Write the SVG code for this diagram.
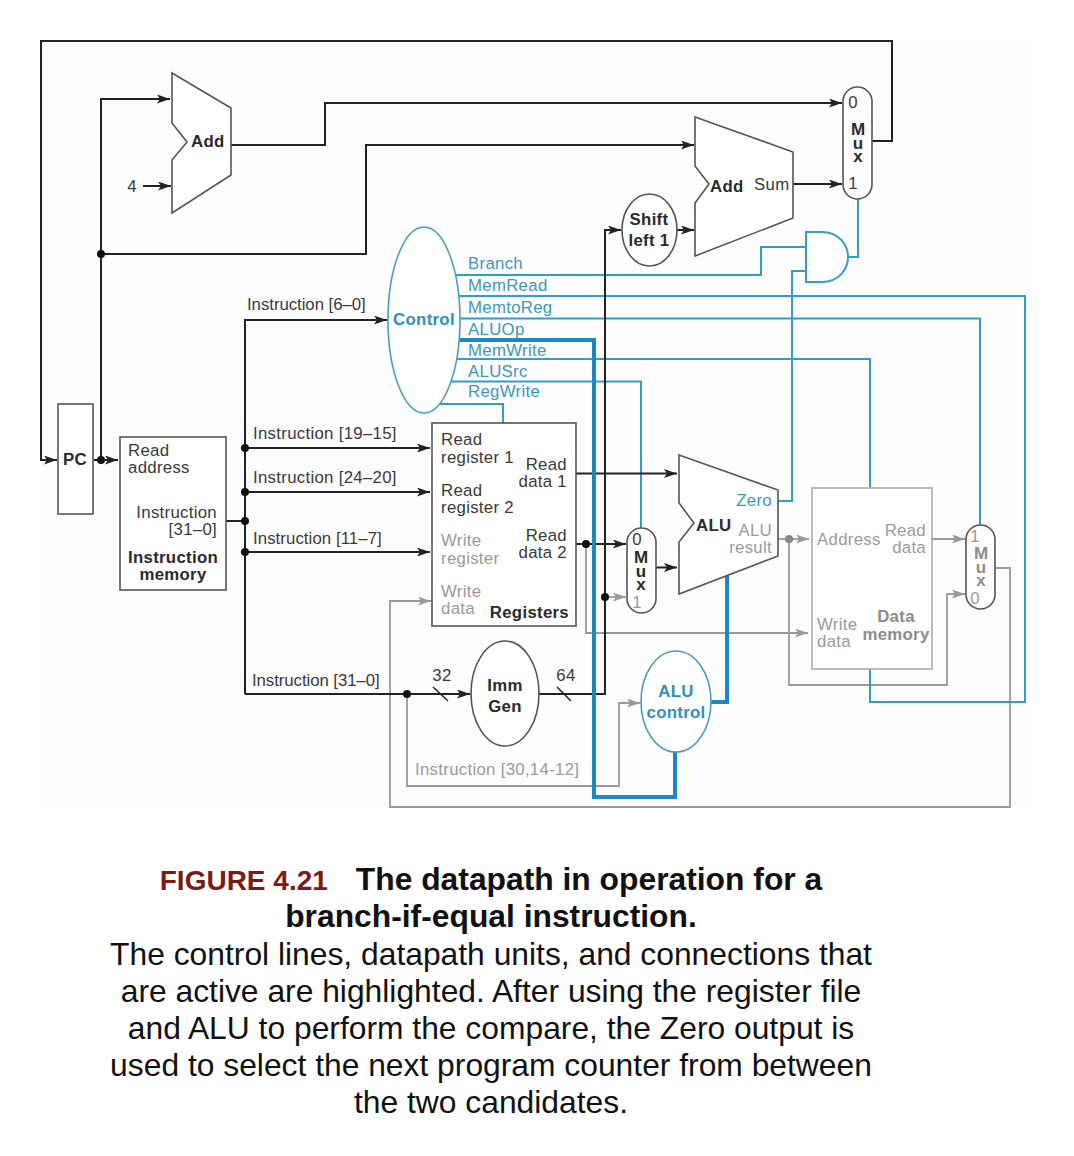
<svg xmlns="http://www.w3.org/2000/svg" width="1074" height="1156" viewBox="0 0 1074 1156">
<style>
text{font-family:"Liberation Sans",Arial,sans-serif;font-size:16.8px;letter-spacing:.3px;fill:#3a3a3a}
.b{font-weight:bold;fill:#2a2a2a}
.g{fill:#9a9a9a}
.gb{font-weight:bold;fill:#8c8c8c}
.c{fill:#3f97bd}
.cb{font-weight:bold;fill:#2f8fbc}
.m{text-anchor:middle}
.e{text-anchor:end}
.node{fill:#fff;stroke:#555;stroke-width:1.6}
.ng{fill:#fff;stroke:#ababab;stroke-width:1.6}
.nc{fill:#fff;stroke:#4f9cba;stroke-width:1.6}
.w{fill:none;stroke:#222;stroke-width:2}
.a{marker-end:url(#ad)}
.wg{fill:none;stroke:#999;stroke-width:1.8}
.ag{marker-end:url(#ag)}
.wb{fill:none;stroke:#2f9ecb;stroke-width:2}
.wt{fill:none;stroke:#1b87c4;stroke-width:4}
.cap{font-size:31.8px;letter-spacing:0;fill:#111;text-anchor:middle}
.mx{font-size:17px;font-weight:bold;writing-mode:vertical-rl;text-orientation:upright;letter-spacing:-5.500px}
</style>
<defs>
<marker id="ad" markerUnits="userSpaceOnUse" markerWidth="13" markerHeight="9" refX="13" refY="4.500" orient="auto"><path d="M0 0L13 4.500L0 9L3 4.500Z" fill="#222"/></marker>
<marker id="ag" markerUnits="userSpaceOnUse" markerWidth="13" markerHeight="9" refX="13" refY="4.500" orient="auto"><path d="M0 0L13 4.500L0 9L3 4.500Z" fill="#999"/></marker>
</defs>
<rect x="42" y="42" width="990" height="768" fill="#fdfdfd"/>
<g id="connectors">
<path class="wg ag" d="M995 568H1010V807H390V601H431"/>
<path class="wg ag" d="M586 544V633H808"/>
<path class="wg ag" d="M778 539H809"/>
<path class="wg ag" d="M789 539V685H947V594H965"/>
<path class="wg ag" d="M932 539H965"/>
<path class="wg ag" d="M605 597H626"/>
<path class="wg ag" d="M407 694V786H619V703H640"/>
<path class="wb" d="M456 275H761V247H806"/>
<path class="wb" d="M458 296H1025V702H870V669"/>
<path class="wb" d="M460 318.500H980V525"/>
<path class="wb" d="M457 359H870V488"/>
<path class="wb" d="M450 381.500H641V528"/>
<path class="wb" d="M440 404H503V423"/>
<path class="wb" d="M778 501H792V271H806"/>
<path class="wb" d="M848 257H858V199"/>
<path class="w" d="M872 141H892V41H41V460H57" marker-end="url(#ad)"/>
<path class="w a" d="M92 460H118"/>
<path class="w a" d="M101 460V99H170"/>
<path class="w a" d="M101 254H366V145H694"/>
<path class="w a" d="M143 186H171"/>
<path class="w a" d="M231 145H325V103H842"/>
<path class="w a" d="M793 184H842"/>
<path class="w a" d="M677 230H694"/>
<path class="w" d="M226 521H245"/>
<path class="w a" d="M245 694V320H387"/>
<path class="w a" d="M245 448H430"/>
<path class="w a" d="M245 492H430"/>
<path class="w a" d="M245 552H430"/>
<path class="w a" d="M245 694H470"/>
<path class="w a" d="M539 694H605V230H621"/>
<path class="w" d="M433 687L448 701M557 687L571 701" style="stroke-width:1.500"/>
<path class="w a" d="M576 473.500H677"/>
<path class="w a" d="M576 544H626"/>
<path class="w a" d="M656 567.500H677"/>
<path class="wt" d="M459 340H594V797H675V752"/>
<path class="wt" d="M711 702H727V576"/>
<g fill="#111">
<circle cx="101" cy="460" r="4"/><circle cx="101" cy="254" r="4"/>
<circle cx="245" cy="448" r="4"/><circle cx="245" cy="492" r="4"/><circle cx="245" cy="521" r="4"/><circle cx="245" cy="552" r="4"/>
<circle cx="407" cy="694" r="4"/><circle cx="586" cy="544" r="4"/><circle cx="605" cy="597" r="4"/>
</g>
<circle cx="789" cy="539" r="4" fill="#888"/>
</g>
<g id="pc"><rect class="node" x="58" y="404" width="35" height="110"/><text class="b m" x="75" y="465">PC</text></g>
<g id="instruction-memory"><rect class="node" x="120" y="437" width="106" height="153"/>
<text x="128" y="456">Read</text><text x="128" y="473">address</text>
<text class="e" x="217" y="518">Instruction</text><text class="e" x="217" y="535">[31–0]</text>
<text class="b m" x="173" y="563">Instruction</text><text class="b m" x="173" y="580">memory</text></g>
<g id="adder-pc"><path class="node" d="M172 73L231 108V175L172 213V160L187 142L172 123Z"/><text class="b" x="191" y="147">Add</text></g>
<text class="m" x="132" y="192">4</text>
<g id="adder-branch"><path class="node" d="M695 117L793 152V218L695 256V203L709 184L695 166Z"/><text class="b" x="710" y="192">Add</text><text x="754" y="190">Sum</text></g>
<g id="mux-pc"><rect class="node" x="843" y="87" width="29" height="112" rx="14.500"/>
<text class="m" x="853" y="108">0</text><text class="mx" x="858" y="120" style="fill:#2a2a2a">Mux</text><text class="m" x="853" y="189">1</text></g>
<g id="shift-left"><ellipse class="node" cx="649.500" cy="230" rx="27.500" ry="36"/><text class="b m" x="649" y="225">Shift</text><text class="b m" x="649" y="246">left 1</text></g>
<g id="and-gate"><path class="nc" style="stroke:#2f9ecb;stroke-width:2" d="M806 232H822C838 232 848 244 848 257C848 270 838 282 822 282H806Z"/></g>
<g id="control"><ellipse class="nc" cx="424" cy="320" rx="36" ry="93"/><text class="cb m" x="424" y="325">Control</text></g>
<g id="control-labels">
<text class="c" x="468" y="269">Branch</text><text class="c" x="468" y="291">MemRead</text><text class="c" x="468" y="313">MemtoReg</text><text class="c" x="468" y="335">ALUOp</text><text class="c" x="468" y="356">MemWrite</text><text class="c" x="468" y="377">ALUSrc</text><text class="c" x="468" y="397">RegWrite</text></g>
<g id="bus-labels">
<text x="247" y="310" textLength="119">Instruction [6–0]</text><text x="253" y="439">Instruction [19–15]</text><text x="253" y="483">Instruction [24–20]</text><text x="253" y="544" textLength="129">Instruction [11–7]</text><text x="252" y="686" textLength="128">Instruction [31–0]</text>
<text class="m" x="442" y="681">32</text><text class="m" x="566" y="681">64</text><text class="g" x="415" y="775">Instruction [30,14-12]</text></g>
<g id="registers"><rect class="node" x="432" y="423" width="144" height="203"/>
<text x="441" y="445">Read</text><text x="441" y="463">register 1</text><text x="441" y="496">Read</text><text x="441" y="513">register 2</text>
<text class="g" x="441" y="546">Write</text><text class="g" x="441" y="564">register</text><text class="g" x="441" y="597">Write</text><text class="g" x="441" y="614">data</text>
<text class="e" x="567" y="470">Read</text><text class="e" x="567" y="487">data 1</text><text class="e" x="567" y="541">Read</text><text class="e" x="567" y="558">data 2</text>
<text class="b e" x="569" y="618">Registers</text></g>
<g id="mux-alu"><rect class="node" x="627" y="528" width="29" height="85" rx="14.500"/>
<text class="m" x="637" y="545">0</text><text class="mx" x="641" y="548" style="fill:#2a2a2a">Mux</text><text class="g m" x="637" y="608">1</text></g>
<g id="alu"><path class="node" d="M679 455L778 490V556L679 594V542L694 523L679 503Z"/><text class="b" x="696" y="531">ALU</text><text class="c e" x="772" y="506">Zero</text><text class="g e" x="772" y="536">ALU</text><text class="g e" x="772" y="553">result</text></g>
<g id="data-memory"><rect class="ng" x="812" y="488" width="120" height="181"/>
<text class="g" x="817" y="545">Address</text><text class="g e" x="926" y="536">Read</text><text class="g e" x="926" y="553">data</text>
<text class="g" x="817" y="630">Write</text><text class="g" x="817" y="647">data</text><text class="gb m" x="896" y="622">Data</text><text class="gb m" x="896" y="640">memory</text></g>
<g id="mux-mem"><rect class="node" x="966" y="525" width="29" height="84" rx="14.500"/>
<text class="g m" x="975" y="542">1</text><text class="mx" x="981" y="544" style="fill:#8c8c8c">Mux</text><text class="g m" x="975" y="604">0</text></g>
<g id="imm-gen"><ellipse class="node" cx="505" cy="693.500" rx="34" ry="52.500"/><text class="b m" x="505" y="691">Imm</text><text class="b m" x="505" y="712">Gen</text></g>
<g id="alu-control"><ellipse class="nc" cx="676" cy="701.500" rx="35" ry="50.500"/><text class="cb m" x="676" y="697">ALU</text><text class="cb m" x="676" y="718">control</text></g>
<g id="caption">
<text class="cap" x="491" y="890"><tspan style="fill:#7a1c14;font-weight:bold;font-size:28px">FIGURE 4.21</tspan><tspan font-weight="bold" dx="28">The datapath in operation for a</tspan></text>
<text class="cap" x="491" y="927" font-weight="bold">branch-if-equal instruction.</text>
<text class="cap" x="491" y="965">The control lines, datapath units, and connections that</text>
<text class="cap" x="491" y="1002">are active are highlighted. After using the register file</text>
<text class="cap" x="491" y="1039">and ALU to perform the compare, the Zero output is</text>
<text class="cap" x="491" y="1076">used to select the next program counter from between</text>
<text class="cap" x="491" y="1113">the two candidates.</text>
</g>
</svg>
